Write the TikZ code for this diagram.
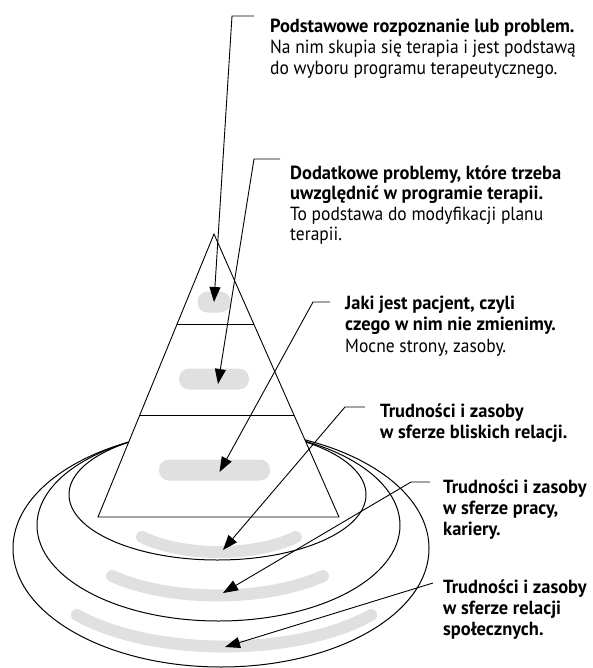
\documentclass[tikz,border=0pt]{standalone}
\usepackage{fontspec}
\setmainfont[FakeStretch=0.92,BoldFeatures={FakeStretch=0.97}]{PT Sans}
\usetikzlibrary{arrows.meta,calc,positioning}
\tikzset{
    %Define standard arrow tip
    >={Triangle[length=15pt,width=11pt]},
    %Define style for text blocks
    note/.style={
           anchor=base west,
           inner sep=0pt,
           align=left,
           font=\fontsize{19}{21}\selectfont,
           },
    boldnote/.style={
           note,
           font=\fontsize{19}{21}\selectfont\bfseries,
           },
    %Define style for grey bars
    bar/.style={
           rectangle,
           rounded corners=10pt,
           fill=black!12,
           minimum height=21pt,
           inner sep=0pt,
           },
    band/.style={
           draw=black!12,
           line width=12pt,
           line cap=round,
           },
    ring/.style={
           draw=black,
           line width=1pt,
           },
    % Define arrow style
    lead/.style={
           ->,
           line width=0.9pt,
           },
}
\begin{document}
\begin{tikzpicture}[x=1pt,y=-1pt]
\useasboundingbox (0,0) rectangle (593,668);
% rings
\draw[ring] (221,548.4) ellipse[x radius=208, y radius=118.6];
\draw[ring] (218.5,525.3) ellipse[x radius=181.5, y radius=95.7];
\draw[ring] (217.5,494.6) ellipse[x radius=148.5, y radius=65.4];
% pyramid
\coordinate (apex) at (214,234);
\coordinate (bl) at (98,517);
\coordinate (br) at (339,517);
\draw[fill=white, line width=0.9pt] (apex) -- (br) -- (bl) -- cycle;
\draw[line width=0.9pt] ($(apex)!0.318!(bl)$) -- ($(apex)!0.318!(br)$);
\draw[line width=0.9pt] ($(apex)!0.640!(bl)$) -- ($(apex)!0.640!(br)$);
% grey bars
\node[bar, minimum width=33pt] (topbar) at (214,302) {};
\node[bar, minimum width=70pt] (midbar) at (214,379) {};
\node[bar, minimum width=111pt] (lowbar) at (214.5,470) {};
\draw[band] (142,537) arc[start angle=137.7, end angle=42.3, x radius=104, y radius=45.9];
\draw[band] (112,576) arc[start angle=135.5, end angle=44.5, x radius=147.9, y radius=65.1];
\draw[band] (77,615) arc[start angle=141.9, end angle=38.1, x radius=186.9, y radius=82.3];
\coordinate (closearc) at (223,550);
\coordinate (workarc) at (223,593);
\coordinate (socialarc) at (225,647);
% texts (placed at the baseline of their last line)
\node[note] (basic) at (270,75) {\textbf{Podstawowe rozpoznanie lub problem.}\\Na nim skupia się terapia i jest podstawą\\do wyboru programu terapeutycznego.};
\node[note, font=\fontsize{19}{20}\selectfont] (extra) at (290,240) {\textbf{Dodatkowe problemy, które trzeba}\\\textbf{uwzględnić w programie terapii.}\\To podstawa do modyfikacji planu\\terapii.};
\node[note, font=\fontsize{19}{21.7}\selectfont] (patient) at (345,352.5) {\textbf{Jaki jest pacjent, czyli}\\\textbf{czego w nim nie zmienimy.}\\Mocne strony, zasoby.};
\node[boldnote] (close) at (380,438) {Trudności i zasoby\\w sferze bliskich relacji.};
\node[boldnote] (work) at (443,535) {Trudności i zasoby\\w sferze pracy,\\kariery.};
\node[boldnote] (social) at (443,635) {Trudności i zasoby\\w sferze relacji\\społecznych.};
% leaders
\coordinate (basic-a) at (254,16);   \coordinate (basic-b) at (232,16);
\coordinate (extra-a) at (280,159);  \coordinate (extra-b) at (254,159);
\coordinate (patient-a) at (330,302); \coordinate (patient-b) at (313,302);
\coordinate (close-a) at (365,407);  \coordinate (close-b) at (345,407);
\coordinate (work-a) at (430,482);   \coordinate (work-b) at (411,482);
\coordinate (social-a) at (433,583); \coordinate (social-b) at (420,587);
\draw[lead] (basic-a) -- (basic-b) -- (topbar.center);
\draw[lead] (extra-a) -- (extra-b) -- ([xshift=4pt,yshift=-5pt]midbar.center);
\draw[lead] (patient-a) -- (patient-b) -- ([xshift=5pt,yshift=-2pt]lowbar.center);
\draw[lead] (close-a) -- (close-b) -- (closearc);
\draw[lead] (work-a) -- (work-b) -- (workarc);
\draw[lead] (social-a) -- (social-b) -- (socialarc);
\end{tikzpicture}
\end{document}
